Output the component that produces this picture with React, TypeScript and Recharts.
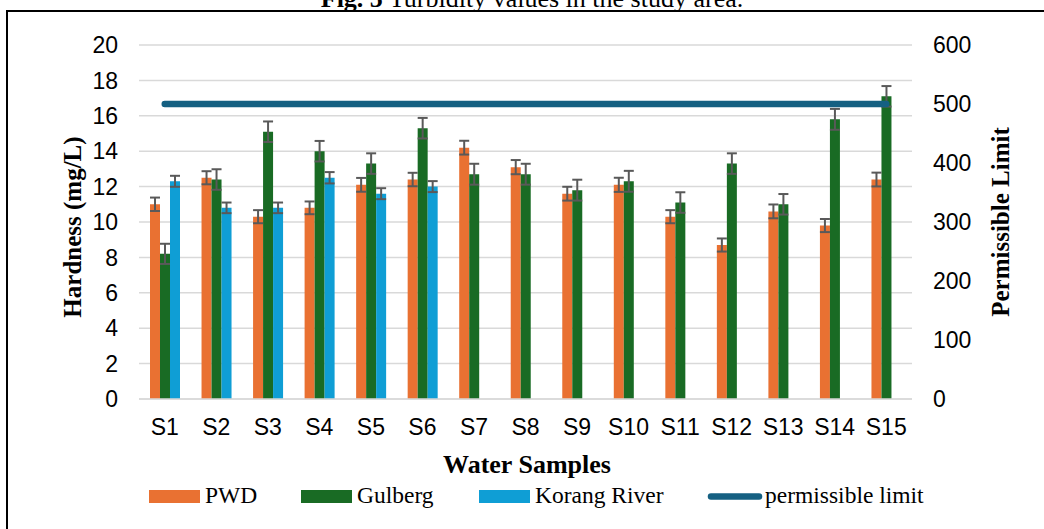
import React from 'react';
import {
  ComposedChart,
  Bar,
  Line,
  XAxis,
  YAxis,
  CartesianGrid,
  ErrorBar,
} from 'recharts';

const categories = ['S1', 'S2', 'S3', 'S4', 'S5', 'S6', 'S7', 'S8', 'S9', 'S10', 'S11', 'S12', 'S13', 'S14', 'S15'];
const pwd = [11.0, 12.5, 10.3, 10.8, 12.1, 12.4, 14.2, 13.1, 11.6, 12.1, 10.3, 8.7, 10.6, 9.8, 12.4];
const gulberg = [8.2, 12.4, 15.1, 14.0, 13.3, 15.3, 12.7, 12.7, 11.8, 12.3, 11.1, 13.3, 11.0, 15.8, 17.1];
const korang: (number | null)[] = [12.3, 10.8, 10.8, 12.5, 11.6, 12.0, null, null, null, null, null, null, null, null, null];
const pwdErr = [0.38, 0.37, 0.37, 0.36, 0.39, 0.38, 0.39, 0.4, 0.39, 0.4, 0.37, 0.37, 0.39, 0.37, 0.39];
const gulbergErr = [0.57, 0.58, 0.58, 0.58, 0.58, 0.58, 0.59, 0.59, 0.59, 0.59, 0.58, 0.58, 0.58, 0.59, 0.58];
const korangErr: (number | null)[] = [0.31, 0.3, 0.3, 0.32, 0.31, 0.31, null, null, null, null, null, null, null, null, null];
const limit = [500, 500, 500, 500, 500, 500, 500, 500, 500, 500, 500, 500, 500, 500, 500];
const leftTicks = [0, 2, 4, 6, 8, 10, 12, 14, 16, 18, 20];
const rightTicks = [0, 100, 200, 300, 400, 500, 600];

const data = categories.map((c, i) => ({
  name: c,
  pwd: pwd[i],
  gulberg: gulberg[i],
  korang: korang[i],
  pwdErr: pwdErr[i],
  gulbergErr: gulbergErr[i],
  korangErr: korangErr[i],
  limit: limit[i],
}));

const ORANGE = '#E97132';
const GREEN = '#196B24';
const BLUE = '#0F9ED5';
const NAVY = '#156082';
const ERR = '#595959';
const SANS = '"Liberation Sans", Arial, sans-serif';
const SERIF = '"Liberation Serif", "Times New Roman", serif';

export default function App() {
  return (
    <div style={{ position: 'absolute', left: 0, top: 0, width: 1044, height: 529, background: '#fff', overflow: 'hidden' }}>
      <div style={{ position: 'absolute', left: 0, top: 0 }}>
        <ComposedChart
          width={1044}
          height={529}
          data={data}
          margin={{ top: 45, right: 72, left: 79, bottom: 100 }}
          barGap={0}
          barSize={10}
        >
          <CartesianGrid yAxisId="left" vertical={false} stroke="#d9d9d9" strokeWidth={1.5} />
          <XAxis
            dataKey="name"
            height={30}
            tickLine={false}
            tickSize={0}
            tickMargin={20}
            axisLine={{ stroke: '#d9d9d9', strokeWidth: 1.5 }}
            tick={{ fill: '#000', fontSize: 23, fontFamily: SANS }}
            interval={0}
          />
          <YAxis
            yAxisId="left"
            orientation="left"
            width={60}
            domain={[0, 20]}
            ticks={leftTicks}
            interval={0}
            axisLine={false}
            tickLine={false}
            tickSize={0}
            tickMargin={21}
            tick={{ fill: '#000', fontSize: 23, fontFamily: SANS }}
          />
          <YAxis
            yAxisId="right"
            orientation="right"
            width={60}
            domain={[0, 600]}
            ticks={rightTicks}
            interval={0}
            axisLine={false}
            tickLine={false}
            tickSize={0}
            tickMargin={21}
            tick={{ fill: '#000', fontSize: 23, fontFamily: SANS, textAnchor: 'start' }}
          />
          <Bar yAxisId="left" dataKey="pwd" fill={ORANGE} isAnimationActive={false}>
            <ErrorBar dataKey="pwdErr" width={5} stroke={ERR} strokeWidth={2} direction="y" />
          </Bar>
          <Bar yAxisId="left" dataKey="gulberg" fill={GREEN} isAnimationActive={false}>
            <ErrorBar dataKey="gulbergErr" width={5} stroke={ERR} strokeWidth={2} direction="y" />
          </Bar>
          <Bar yAxisId="left" dataKey="korang" fill={BLUE} isAnimationActive={false}>
            <ErrorBar dataKey="korangErr" width={5} stroke={ERR} strokeWidth={2} direction="y" />
          </Bar>
          <Line
            yAxisId="right"
            dataKey="limit"
            stroke={NAVY}
            strokeWidth={6.5}
            strokeLinecap="round"
            dot={false}
            activeDot={false}
            isAnimationActive={false}
          />
        </ComposedChart>
      </div>
      <svg
        width={1044}
        height={529}
        style={{ position: 'absolute', left: 0, top: 0, pointerEvents: 'none' }}
      >
        <rect x={7} y={11} width={1100} height={600} fill="none" stroke="#000" strokeWidth={2} />
        <text x={532} y={7} textAnchor="middle" fontFamily={SERIF} fontSize={26} fill="#000">
          <tspan fontWeight="bold">Fig. 5</tspan>
          <tspan> Turbidity values in the study area.</tspan>
        </text>
        <text
          transform="translate(72,227) rotate(-90)"
          textAnchor="middle"
          dominantBaseline="central"
          fontFamily={SERIF}
          fontWeight="bold"
          fontSize={25}
          fill="#000"
        >
          Hardness (mg/L)
        </text>
        <text
          transform="translate(1000,222) rotate(-90)"
          textAnchor="middle"
          dominantBaseline="central"
          fontFamily={SERIF}
          fontWeight="bold"
          fontSize={25}
          fill="#000"
        >
          Permissible Limit
        </text>
        <text x={527} y={473} textAnchor="middle" fontFamily={SERIF} fontWeight="bold" fontSize={26} fill="#000">
          Water Samples
        </text>
        <g fontFamily={SERIF} fontSize={23.5} fill="#000">
          <rect x={149} y={490} width={51} height={13} fill={ORANGE} />
          <text x={205} y={503}>PWD</text>
          <rect x={301} y={490} width={51} height={13} fill={GREEN} />
          <text x={357} y={503}>Gulberg</text>
          <rect x={479} y={490} width={51} height={13} fill={BLUE} />
          <text x={535} y={503}>Korang River</text>
          <line x1={711} y1={496.5} x2={759} y2={496.5} stroke={NAVY} strokeWidth={6.5} strokeLinecap="round" />
          <text x={765} y={503}>permissible limit</text>
        </g>
      </svg>
    </div>
  );
}
